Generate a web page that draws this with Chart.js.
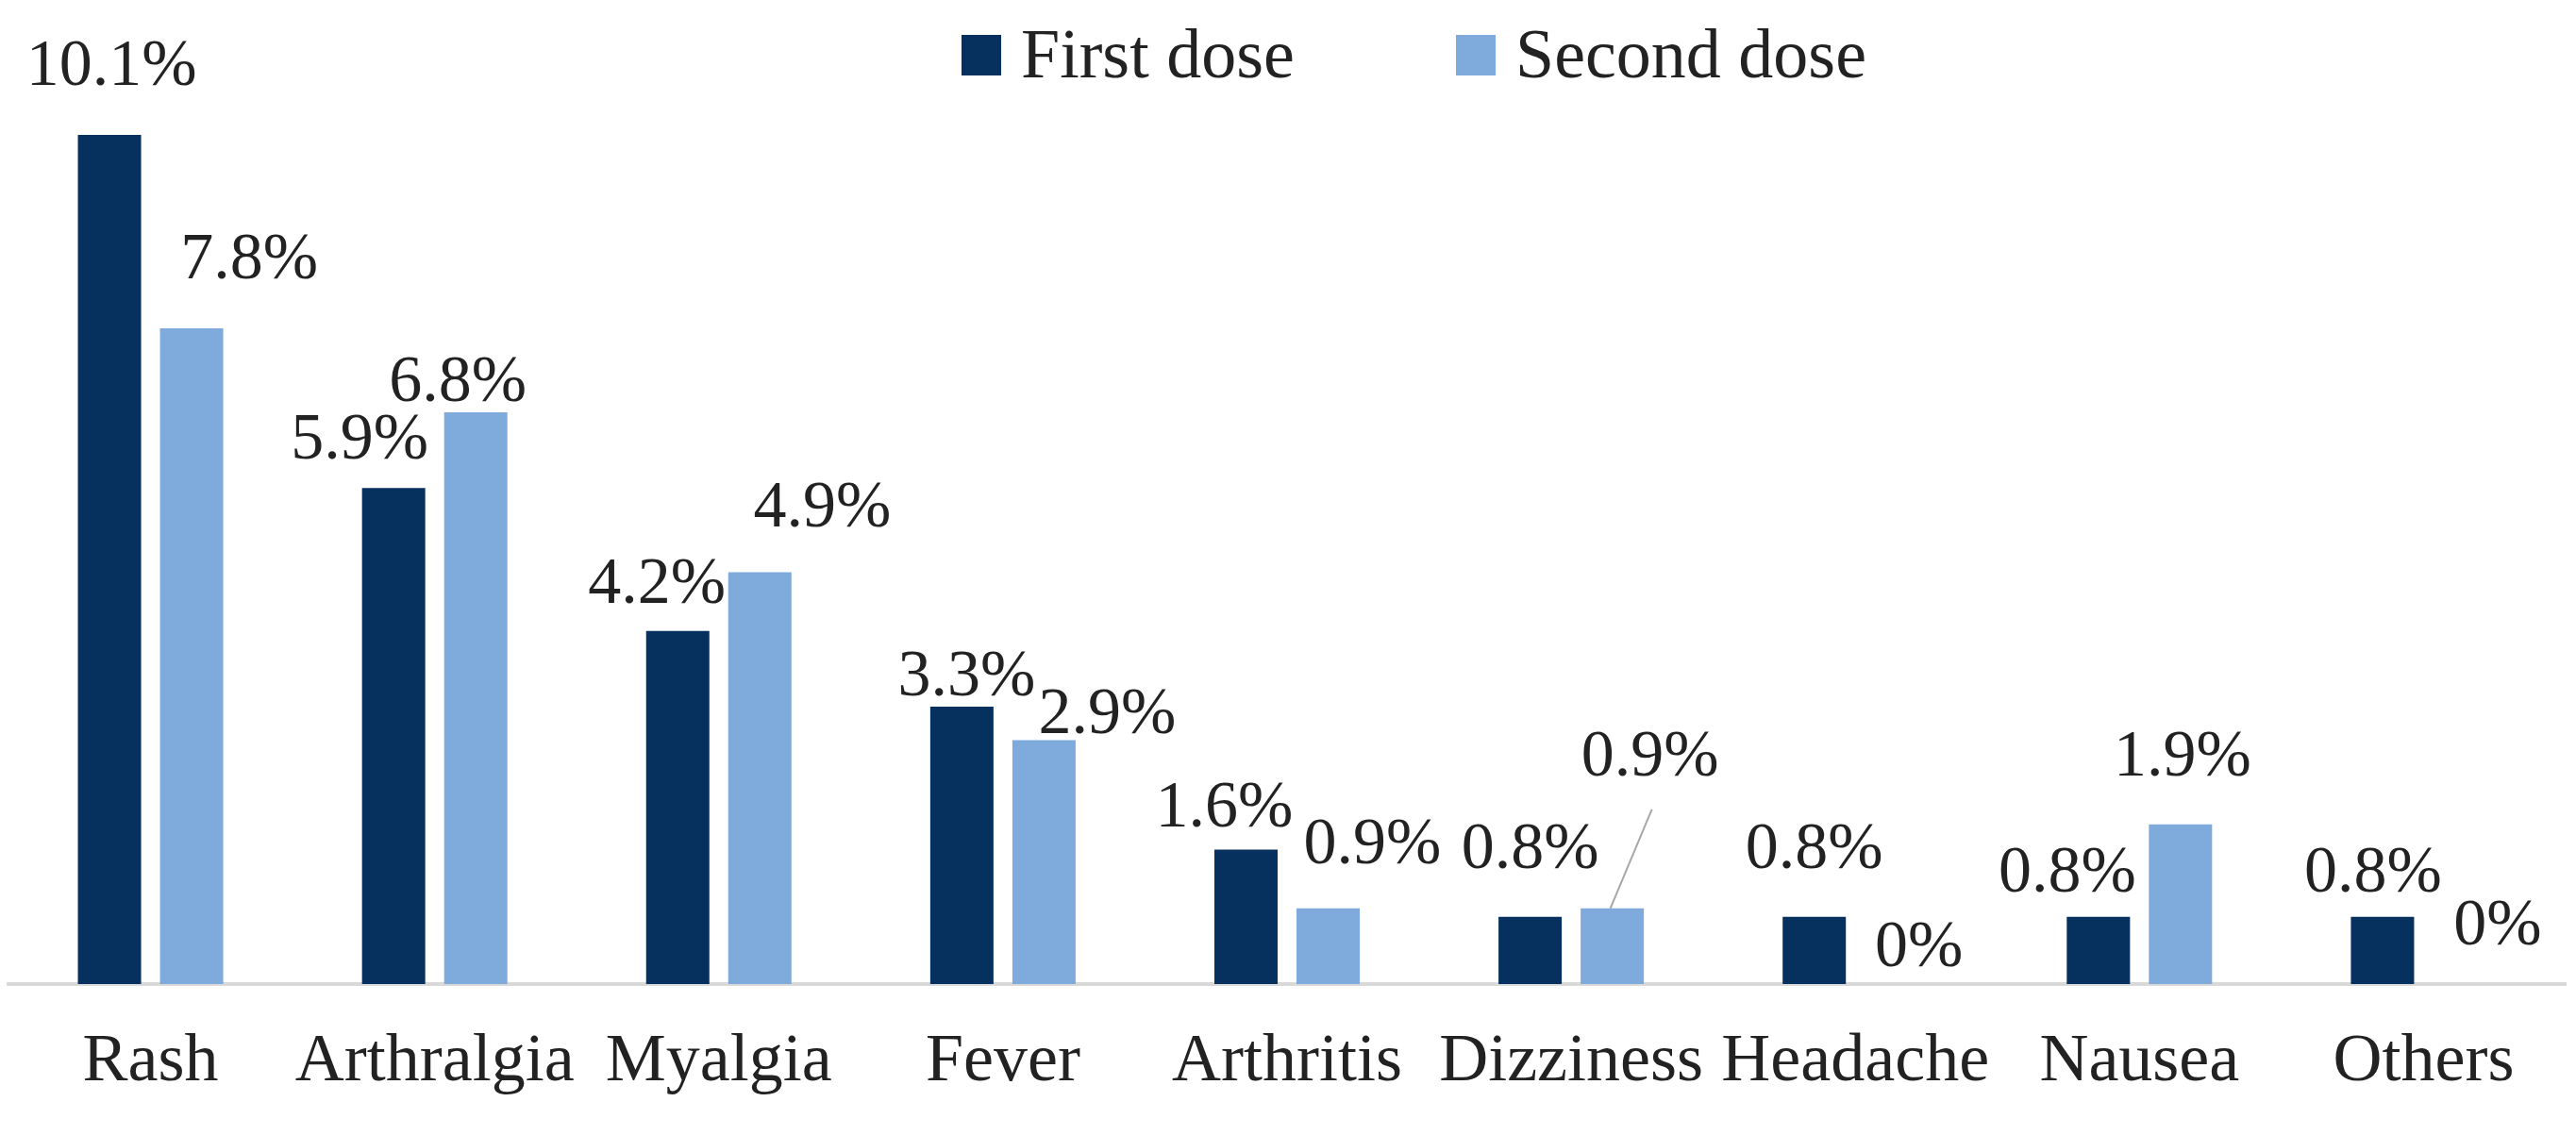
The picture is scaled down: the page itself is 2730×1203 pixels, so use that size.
<!DOCTYPE html>
<html>
<head>
<meta charset="utf-8">
<script src="https://cdn.jsdelivr.net/npm/chart.js@4.4.1/dist/chart.umd.min.js"></script>
<style>
  html, body { margin: 0; padding: 0; background: #fff; }
  #wrap { width: 2730px; height: 1203px; position: relative; }
</style>
</head>
<body>
<div id="wrap"><canvas id="diagram"></canvas></div>
<script>
// data
const categories = ["Rash", "Arthralgia", "Myalgia", "Fever", "Arthritis", "Dizziness", "Headache", "Nausea", "Others"];
const seriesNames = ["First dose", "Second dose"];
const firstDose = [10.1, 5.9, 4.2, 3.3, 1.6, 0.8, 0.8, 0.8, 0.8];
const secondDose = [7.8, 6.8, 4.9, 2.9, 0.9, 0.9, 0, 1.9, 0];

// label nudges (px from top centre of each bar), like moved labels in the original
const nudgeX1 = [2, -36, -22, 5, -23, 0, 0, -33, -10];
const nudgeY1 = [-71, -50, -48, -30, -43, -70, -70, -45, -45];
const nudgeX2 = [61, -19, 66, 67, 47, 40, 24, 2, 35];
const nudgeY2 = [-71, -30, -67, -26, -66, -159, -37, -70, -60];
const leader2 = [0, 0, 0, 0, 0, 1, 0, 0, 0]; /* thin line from label to bar */

const colDark = "#06315f";
const colLight = "#7faadc";
const serif = "'Liberation Serif', 'DejaVu Serif', serif";

const barLabels = {
    id: "barLabels",
    afterDatasetsDraw(chart) {
        const ctx = chart.ctx;
        ctx.save();
        ctx.font = "70px " + serif;
        ctx.fillStyle = "#222";
        ctx.textAlign = "center";
        ctx.textBaseline = "middle";
        chart.data.datasets.forEach((ds, di) => {
            const meta = chart.getDatasetMeta(di);
            const nx = di === 0 ? nudgeX1 : nudgeX2;
            const ny = di === 0 ? nudgeY1 : nudgeY2;
            meta.data.forEach((bar, i) => {
                const tx = bar.x + nx[i];
                const ty = bar.y + ny[i];
                ctx.fillText(ds.data[i] + "%", tx, ty);
                if (di === 1 && leader2[i]) {
                    ctx.strokeStyle = "#a6a6a6";
                    ctx.lineWidth = 2;
                    ctx.beginPath();
                    ctx.moveTo(tx + 2, ty + 54);
                    ctx.lineTo(bar.x - 2, bar.y);
                    ctx.stroke();
                }
            });
        });
        ctx.restore();
    }
};

// legend drawn on top of the plot, like the original
const topLegend = {
    id: "topLegend",
    afterDraw(chart) {
        const ctx = chart.ctx;
        ctx.save();
        ctx.font = "74px " + serif;
        ctx.textBaseline = "alphabetic";
        ctx.textAlign = "left";
        const starts = [1019, 1543];
        chart.data.datasets.forEach((ds, di) => {
            const x = starts[di];
            ctx.fillStyle = ds.backgroundColor;
            ctx.fillRect(x, 37, 42, 43);
            ctx.fillStyle = "#222";
            ctx.fillText(ds.label, x + 63, 82);
        });
        ctx.restore();
    }
};

const ctx = document.getElementById("diagram");

let chart1 = new Chart(ctx, {
    type: "bar",
    data: {
        labels: categories,
        datasets: [{
            label: seriesNames[0],
            data: firstDose,
            backgroundColor: colDark,
            categoryPercentage: 0.578,
            barPercentage: 0.77
        }, {
            label: seriesNames[1],
            data: secondDose,
            backgroundColor: colLight,
            categoryPercentage: 0.578,
            barPercentage: 0.77
        }]
    },
    options: {
        responsive: true,
        maintainAspectRatio: false,
        animation: false,
        devicePixelRatio: 1,
        layout: { padding: { left: 9, right: 11, top: 45, bottom: 0 } },
        plugins: {
            legend: { display: false },
            tooltip: { enabled: false }
        },
        scales: {
            x: {
                grid: { display: false, drawTicks: false },
                border: { display: true, color: "#d9d9d9", width: 4 },
                ticks: {
                    color: "#222",
                    font: { family: serif, size: 72 },
                    padding: 40,
                    maxRotation: 0,
                    autoSkip: false
                },
                afterFit(scale) { scale.height = 160; }
            },
            y: {
                display: false,
                min: 0,
                max: 11.2
            }
        }
    },
    plugins: [barLabels, topLegend]
});
</script>
</body>
</html>
